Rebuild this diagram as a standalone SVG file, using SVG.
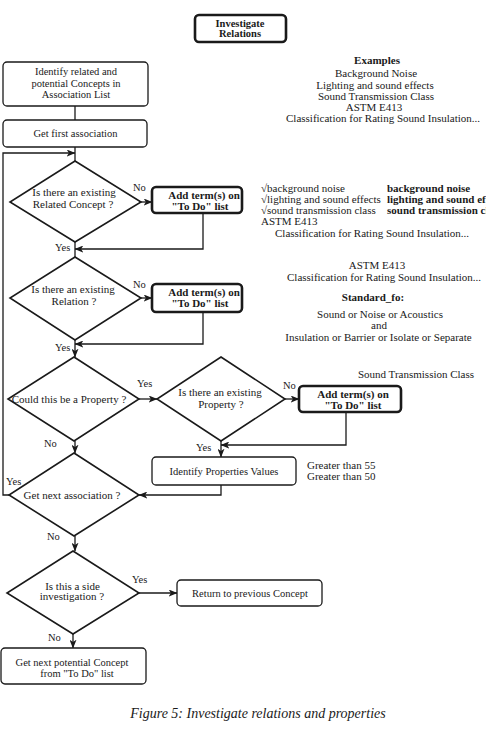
<svg xmlns="http://www.w3.org/2000/svg" width="486" height="743" viewBox="0 0 486 743">
<defs>
<marker id="arr" viewBox="0 0 10 8" refX="9.5" refY="4" markerWidth="9" markerHeight="7" markerUnits="userSpaceOnUse" orient="auto">
<path d="M0,0 L10,4 L0,8 L2.5,4 z" fill="#1a1a1a"/>
</marker>
</defs>
<style>
text{font-family:"Liberation Serif","Times New Roman",serif;fill:#1a1a1a;font-size:10.5px}
.c{text-anchor:middle}
.b{font-weight:bold}
.s11{font-size:11px}
.box{fill:#fff;stroke:#1a1a1a;stroke-width:1.3}
.tbox{fill:#fff;stroke:#1a1a1a;stroke-width:2.6}
.dia{fill:#fff;stroke:#1a1a1a;stroke-width:1.6}
.ln{fill:none;stroke:#1a1a1a;stroke-width:1.3}
.cap{font-size:14px;font-style:italic}
</style>
<rect width="486" height="743" fill="#fff"/>

<g id="connectors">
<path class="ln" d="M75,106 V120"/>
<path class="ln" d="M75,147 V161"/>
<path class="ln" d="M9,495 H3 V153 H75" marker-end="url(#arr)"/>
<path class="ln" d="M141,202 H152" marker-end="url(#arr)"/>
<path class="ln" d="M203,213 V249 H75" marker-end="url(#arr)"/>
<path class="ln" d="M75,242 V257"/>
<path class="ln" d="M141,298 H152" marker-end="url(#arr)"/>
<path class="ln" d="M203,312 V344 H75" marker-end="url(#arr)"/>
<path class="ln" d="M75,340 V357" marker-end="url(#arr)"/>
<path class="ln" d="M139,399 H157" marker-end="url(#arr)"/>
<path class="ln" d="M285,399 H299" marker-end="url(#arr)"/>
<path class="ln" d="M346,412 V445 H221" marker-end="url(#arr)"/>
<path class="ln" d="M221,441 V457" marker-end="url(#arr)"/>
<path class="ln" d="M221,485 V495 H139" marker-end="url(#arr)"/>
<path class="ln" d="M75,441 V453" marker-end="url(#arr)"/>
<path class="ln" d="M75,536 V551" marker-end="url(#arr)"/>
<path class="ln" d="M139,593 H177" marker-end="url(#arr)"/>
<path class="ln" d="M73,634 V648" marker-end="url(#arr)"/>
<text x="133" y="191">No</text>
<text x="55" y="251">Yes</text>
<text x="133" y="288">No</text>
<text x="55" y="351">Yes</text>
<text x="137" y="387">Yes</text>
<text x="283" y="389">No</text>
<text x="196" y="451">Yes</text>
<text x="44" y="447">No</text>
<text x="6" y="485">Yes</text>
<text x="47" y="540">No</text>
<text x="132" y="583">Yes</text>
<text x="48" y="641">No</text>
</g>

<g id="n-investigate">
<rect class="tbox" x="195" y="15" width="91" height="27" rx="4"/>
<text class="c b" x="240" y="26.5">Investigate</text>
<text class="c b" x="240" y="37">Relations</text>
</g>

<g id="n-identify">
<rect class="box" x="3" y="62" width="145" height="44" rx="4"/>
<text class="c" x="76" y="75">Identify related and</text>
<text class="c" x="76" y="86.5">potential Concepts in</text>
<text class="c" x="76" y="97.5">Association List</text>
</g>

<g id="n-getfirst">
<rect class="box" x="3" y="120" width="144" height="27" rx="4"/>
<text class="c" x="75.5" y="137">Get first association</text>
</g>

<g id="n-d1">
<polygon class="dia" points="75,161 141,202 75,242 10,202"/>
<text class="c s11" x="74" y="196">Is there an existing</text>
<text class="c s11" x="73" y="207.5">Related Concept ?</text>
</g>

<g id="n-add1">
<rect class="tbox" x="152" y="187" width="90" height="26" rx="4"/>
<text class="c b s11" x="204" y="198.5">Add term(s) on</text>
<text class="c b s11" x="200" y="209.5">"To Do" list</text>
</g>

<g id="n-d2">
<polygon class="dia" points="75,257 141,298 75,340 10,298"/>
<text class="c s11" x="73" y="293">Is there an existing</text>
<text class="c s11" x="74" y="305">Relation ?</text>
</g>

<g id="n-add2">
<rect class="tbox" x="152" y="284" width="90" height="28" rx="4"/>
<text class="c b s11" x="204" y="296">Add term(s) on</text>
<text class="c b s11" x="200" y="307">"To Do" list</text>
</g>

<g id="n-d3">
<polygon class="dia" points="74,357 139,399 74,441 8,399"/>
<text class="c s11" x="69" y="403">Could this be a Property ?</text>
</g>

<g id="n-d5">
<polygon class="dia" points="221,357 285,399 221,441 157,399"/>
<text class="c s11" x="220" y="396">Is there an existing</text>
<text class="c s11" x="221" y="407.5">Property ?</text>
</g>

<g id="n-add3">
<rect class="tbox" x="299" y="386" width="102" height="26" rx="4"/>
<text class="c b s11" x="353" y="398">Add term(s) on</text>
<text class="c b s11" x="353" y="409">"To Do" list</text>
</g>

<g id="n-propvalues">
<rect class="box" x="152" y="457" width="144" height="28" rx="4"/>
<text class="c" x="224" y="474.5">Identify Properties Values</text>
</g>

<g id="n-d4">
<polygon class="dia" points="74,453 139,495 74,536 9,495"/>
<text class="c s11" x="72" y="498.5">Get next association ?</text>
</g>

<g id="n-d6">
<polygon class="dia" points="73,551 139,593 73,634 7,593"/>
<text class="c s11" x="72.5" y="589.5">Is this a side</text>
<text class="c s11" x="72" y="600">investigation ?</text>
</g>

<g id="n-return">
<rect class="box" x="177" y="580" width="145" height="26" rx="4"/>
<text class="c" x="250" y="596.5">Return to previous Concept</text>
</g>

<g id="n-getnext">
<rect class="box" x="1" y="648" width="145" height="36" rx="4"/>
<text class="c" x="72" y="665.5">Get next potential Concept</text>
<text class="c" x="77" y="676.5">from "To Do" list</text>
</g>

<g id="annotations">
<text class="c b s11" x="377" y="64">Examples</text>
<text class="c s11" x="376" y="77">Background Noise</text>
<text class="c s11" x="375" y="88.5">Lighting and sound effects</text>
<text class="c s11" x="376" y="99.5">Sound Transmission Class</text>
<text class="c s11" x="374" y="110.5">ASTM E413</text>
<text class="c s11" x="383" y="121.5">Classification for Rating Sound Insulation...</text>

<text class="s11" x="261" y="192">√background noise</text>
<text class="s11" x="261" y="203">√lighting and sound effects</text>
<text class="s11" x="261" y="214">√sound transmission class</text>
<text class="s11" x="261" y="225">ASTM E413</text>
<text class="b s11" x="387" y="192">background noise</text>
<text class="b s11" x="387" y="203">lighting and sound effects</text>
<text class="b s11" x="387" y="214">sound transmission class</text>
<text class="c s11" x="372" y="236.5">Classification for Rating Sound Insulation...</text>

<text class="c s11" x="377" y="269">ASTM E413</text>
<text class="c s11" x="384" y="281">Classification for Rating Sound Insulation...</text>
<text class="c b s11" x="373" y="301">Standard_fo:</text>
<text class="c s11" x="380" y="318">Sound or Noise or Acoustics</text>
<text class="c s11" x="379" y="329">and</text>
<text class="c s11" x="378.5" y="341">Insulation or Barrier or Isolate or Separate</text>

<text class="c s11" x="416" y="378">Sound Transmission Class</text>
<text class="s11" x="307" y="469">Greater than 55</text>
<text class="s11" x="307" y="480">Greater than 50</text>

<text class="c cap" x="258" y="718">Figure 5: Investigate relations and properties</text>
</g>
</svg>
